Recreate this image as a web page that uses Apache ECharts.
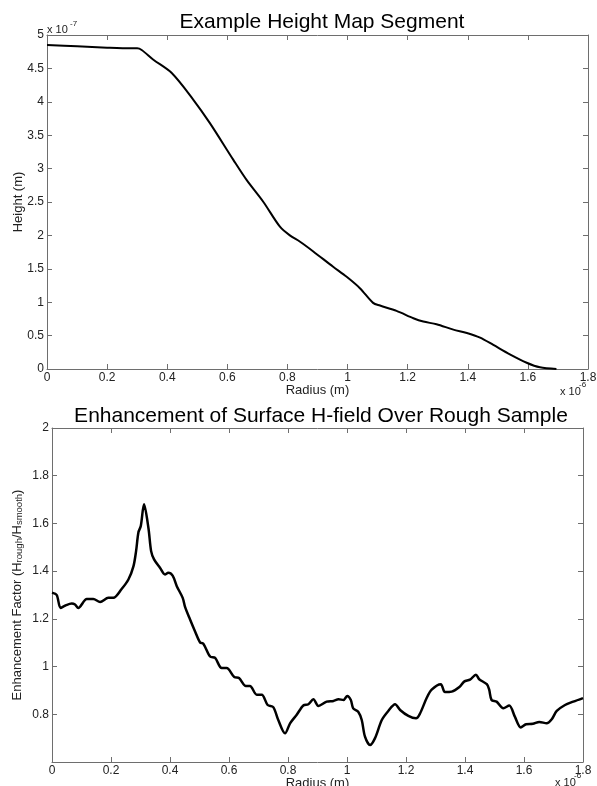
<!DOCTYPE html>
<html>
<head>
<meta charset="utf-8">
<script src="https://cdn.jsdelivr.net/npm/echarts@6/dist/echarts.min.js"></script>
<style>
html,body{margin:0;padding:0;background:#fff;}
#chart{width:597px;height:786px;}
</style>
</head>
<body>
<div id="chart"></div>
<script>
// Top chart: radius (x 1e-6 m) vs height (x 1e-7 m)
var heightRadius = [0, 0.1, 0.2, 0.28, 0.3, 0.315, 0.354, 0.415, 0.487, 0.542, 0.62, 0.664, 0.72, 0.775, 0.808, 0.842, 0.886, 0.952, 0.997, 1.041, 1.085, 1.108, 1.163, 1.219, 1.252, 1.296, 1.352, 1.397, 1.441, 1.485, 1.54, 1.596, 1.64, 1.695];
var heightValues = [4.85, 4.83, 4.81, 4.80, 4.80, 4.775, 4.63, 4.43, 4.03, 3.68, 3.13, 2.83, 2.50, 2.13, 2.0, 1.905, 1.76, 1.53, 1.38, 1.21, 0.99, 0.95, 0.87, 0.76, 0.71, 0.67, 0.59, 0.54, 0.47, 0.36, 0.22, 0.094, 0.025, 0.0];

// Bottom chart: radius (x 1e-6 m) vs enhancement factor
var enhRadius = [0.0, 0.016, 0.029, 0.044, 0.067, 0.078, 0.089, 0.118, 0.14, 0.163, 0.191, 0.208, 0.236, 0.259, 0.276, 0.285, 0.293, 0.301, 0.312, 0.327, 0.336, 0.346, 0.366, 0.383, 0.394, 0.409, 0.423, 0.443, 0.451, 0.468, 0.485, 0.502, 0.513, 0.536, 0.553, 0.575, 0.592, 0.618, 0.634, 0.657, 0.671, 0.694, 0.711, 0.731, 0.750, 0.767, 0.790, 0.807, 0.829, 0.852, 0.869, 0.886, 0.903, 0.931, 0.954, 0.971, 0.988, 1.001, 1.013, 1.021, 1.038, 1.05, 1.061, 1.078, 1.095, 1.118, 1.14, 1.163, 1.18, 1.208, 1.234, 1.247, 1.27, 1.287, 1.318, 1.332, 1.355, 1.381, 1.397, 1.417, 1.437, 1.448, 1.474, 1.482, 1.49, 1.507, 1.53, 1.55, 1.569, 1.589, 1.607, 1.63, 1.652, 1.677, 1.694, 1.711, 1.739, 1.767, 1.8];
var enhValues = [1.31, 1.30, 1.246, 1.255, 1.264, 1.26, 1.246, 1.283, 1.283, 1.271, 1.288, 1.288, 1.325, 1.365, 1.42, 1.484, 1.563, 1.589, 1.68, 1.58, 1.484, 1.449, 1.414, 1.386, 1.393, 1.381, 1.337, 1.288, 1.25, 1.197, 1.147, 1.101, 1.096, 1.042, 1.036, 0.994, 0.994, 0.956, 0.952, 0.919, 0.919, 0.882, 0.882, 0.839, 0.83, 0.776, 0.72, 0.762, 0.797, 0.837, 0.842, 0.863, 0.835, 0.853, 0.856, 0.863, 0.86, 0.877, 0.86, 0.825, 0.811, 0.776, 0.706, 0.671, 0.70, 0.776, 0.814, 0.842, 0.818, 0.793, 0.783, 0.802, 0.868, 0.903, 0.926, 0.893, 0.895, 0.914, 0.937, 0.945, 0.966, 0.947, 0.926, 0.903, 0.86, 0.853, 0.825, 0.837, 0.79, 0.745, 0.758, 0.76, 0.768, 0.762, 0.779, 0.814, 0.839, 0.853, 0.868];

var xTicks = { min: 0, max: 1.8, interval: 0.2 };
var heightTicks = { min: 0, max: 5, interval: 0.5 };
var enhTicks = { min: 0.6, max: 2, interval: 0.2 };

var FONT = '"Liberation Sans", Arial, sans-serif';
var lineCol = '#6e6e6e';
var labCol = '#222';

function fmt(v) { return String(Math.round(v * 10) / 10); }
function pairs(xs, ys) { return xs.map(function (x, i) { return [x, ys[i]]; }); }

function baseAxis(extra) {
  var a = {
    type: 'value',
    nameMoveOverlap: false,
    axisLine: { show: true, onZero: false, lineStyle: { color: lineCol, width: 1 } },
    axisTick: { show: true, inside: true, length: 5, lineStyle: { color: lineCol } },
    splitLine: { show: false },
    axisLabel: { show: true, color: labCol, fontSize: 12, fontFamily: FONT, margin: 3, formatter: fmt, hideOverlap: false }
  };
  for (var k in extra) a[k] = extra[k];
  return a;
}
function mirror(extra) {
  var a = baseAxis(extra);
  a.axisLabel = { show: false };
  return a;
}

var nameStyle = { color: labCol, fontSize: 13, fontFamily: FONT };

var chart = echarts.init(document.getElementById('chart'), null, { renderer: 'canvas' });
chart.setOption({
  animation: false,
  backgroundColor: '#fff',
  title: [
    { text: 'Example Height Map Segment', left: 317, top: 7, textAlign: 'center',
      textStyle: { fontSize: 21, fontWeight: 'normal', color: '#000', fontFamily: FONT } },
    { text: 'Enhancement of Surface H-field Over Rough Sample', left: 316, top: 401, textAlign: 'center',
      textStyle: { fontSize: 21, fontWeight: 'normal', color: '#000', fontFamily: FONT } }
  ],
  grid: [
    { left: 47, top: 35, width: 541, height: 334, outerBoundsMode: 'none', containLabel: false },
    { left: 52, top: 428, width: 531, height: 334, outerBoundsMode: 'none', containLabel: false }
  ],
  xAxis: [
    baseAxis({ gridIndex: 0, position: 'bottom', min: xTicks.min, max: xTicks.max, interval: xTicks.interval,
      name: 'Radius (m)', nameLocation: 'middle', nameGap: 15, nameTextStyle: nameStyle }),
    mirror({ gridIndex: 0, position: 'top', min: xTicks.min, max: xTicks.max, interval: xTicks.interval }),
    baseAxis({ gridIndex: 1, position: 'bottom', min: xTicks.min, max: xTicks.max, interval: xTicks.interval,
      name: 'Radius (m)', nameLocation: 'middle', nameGap: 15, nameTextStyle: nameStyle }),
    mirror({ gridIndex: 1, position: 'top', min: xTicks.min, max: xTicks.max, interval: xTicks.interval })
  ],
  yAxis: [
    baseAxis({ gridIndex: 0, position: 'left', min: heightTicks.min, max: heightTicks.max, interval: heightTicks.interval,
      name: 'Height (m)', nameLocation: 'middle', nameGap: 22, nameTextStyle: nameStyle }),
    mirror({ gridIndex: 0, position: 'right', min: heightTicks.min, max: heightTicks.max, interval: heightTicks.interval }),
    baseAxis({ gridIndex: 1, position: 'left', min: enhTicks.min, max: enhTicks.max, interval: enhTicks.interval,
      axisLabel: { show: true, color: labCol, fontSize: 12, fontFamily: FONT, margin: 3, hideOverlap: false,
        formatter: function (v) { return Math.abs(v - 0.6) < 1e-6 ? '' : fmt(v); } },
      name: '{a|Enhancement Factor (H}{s|rough}{a|/H}{s|smooth}{a|)}', nameLocation: 'middle', nameGap: 28,
      nameTextStyle: { color: labCol, fontFamily: FONT,
        rich: {
          a: { fontSize: 13, lineHeight: 15, verticalAlign: 'bottom', color: labCol, fontFamily: FONT },
          s: { fontSize: 9.5, lineHeight: 23, verticalAlign: 'bottom', color: labCol, fontFamily: FONT }
        } } }),
    mirror({ gridIndex: 1, position: 'right', min: enhTicks.min, max: enhTicks.max, interval: enhTicks.interval })
  ],
  graphic: [
    { type: 'text', left: 47, top: 24, style: { text: 'x 10', fontSize: 11, fontFamily: FONT, fill: labCol } },
    { type: 'text', left: 70, top: 20, style: { text: '-7', fontSize: 8, fontFamily: FONT, fill: labCol } },
    { type: 'text', left: 560, top: 386, style: { text: 'x 10', fontSize: 11, fontFamily: FONT, fill: labCol } },
    { type: 'text', left: 579, top: 381, style: { text: '-6', fontSize: 8, fontFamily: FONT, fill: labCol } },
    { type: 'text', left: 555, top: 777, style: { text: 'x 10', fontSize: 11, fontFamily: FONT, fill: labCol } },
    { type: 'text', left: 574, top: 772, style: { text: '-6', fontSize: 8, fontFamily: FONT, fill: labCol } }
  ],
  series: [
    { type: 'line', xAxisIndex: 0, yAxisIndex: 0, data: pairs(heightRadius, heightValues),
      showSymbol: false, smooth: 0.3, lineStyle: { color: '#000', width: 2 } },
    { type: 'line', xAxisIndex: 2, yAxisIndex: 2, data: pairs(enhRadius, enhValues),
      showSymbol: false, smooth: 0.3, lineStyle: { color: '#000', width: 2.5 } }
  ]
});
</script>
</body>
</html>
